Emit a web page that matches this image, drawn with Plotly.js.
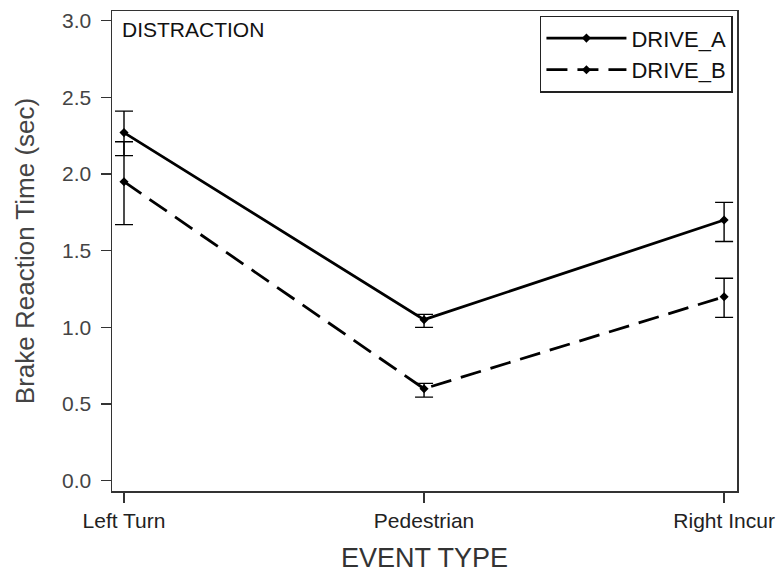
<!DOCTYPE html>
<html>
<head>
<meta charset="utf-8">
<script src="https://cdn.plot.ly/plotly-3.0.1.min.js"></script>
<style>html,body{margin:0;padding:0;background:#fff;}#chart{width:783px;height:578px;}</style>
</head>
<body>
<div id="chart"></div>
<script>
const categories = ["Left Turn", "Pedestrian", "Right Incur"];
const driveA = [2.27, 1.05, 1.70];
const driveAUpper = [2.41, 1.085, 1.815];
const driveALower = [2.12, 1.00, 1.56];
const driveB = [1.95, 0.60, 1.20];
const driveBUpper = [2.21, 0.635, 1.32];
const driveBLower = [1.67, 0.545, 1.065];
const yTicks = [0, 0.5, 1.0, 1.5, 2.0, 2.5, 3.0];
const yTickText = ["0.0", "0.5", "1.0", "1.5", "2.0", "2.5", "3.0"];

const font = "Liberation Sans, Arial, sans-serif";

function mk(name, vals, up, lo, dash) {
  return {
    type: "scatter", mode: "lines+markers", name: name,
    x: categories, y: vals,
    line: {color: "#000", width: 2.8, dash: dash},
    marker: {color: "#000", size: 7, symbol: "diamond"},
    error_y: {
      type: "data", symmetric: false,
      array: up.map((u, i) => u - vals[i]),
      arrayminus: lo.map((l, i) => vals[i] - l),
      color: "#000", thickness: 1.4, width: 9
    }
  };
}

const data = [
  mk("DRIVE_A", driveA, driveAUpper, driveALower, "solid"),
  mk("DRIVE_B", driveB, driveBUpper, driveBLower, "21px,10px")
];

const layout = {
  width: 783, height: 578,
  margin: {l: 112, r: 46, t: 11, b: 87},
  paper_bgcolor: "#fff", plot_bgcolor: "#fff",
  showlegend: true,
  font: {family: font, color: "#333"},
  xaxis: {
    type: "category", range: [-0.04, 2.043],
    showline: true, mirror: true, linecolor: "#333", linewidth: 1.5,
    ticks: "outside", ticklen: 10, tickcolor: "#333", tickwidth: 1.3,
    showgrid: false, zeroline: false,
    tickfont: {size: 21, color: "#222"},
    title: {text: "EVENT TYPE", font: {size: 27, color: "#333"}, standoff: 17}
  },
  yaxis: {
    range: [-0.067, 3.063],
    tickvals: yTicks, ticktext: yTickText,
    showline: true, mirror: true, linecolor: "#333", linewidth: 1.5,
    ticks: "outside", ticklen: 10, tickcolor: "#333", tickwidth: 1.3,
    ticklabelstandoff: 5,
    showgrid: false, zeroline: false,
    tickfont: {size: 21, color: "#444"},
    title: {text: "Brake Reaction Time (sec)", font: {size: 26, color: "#444"}, standoff: 20}
  },
  legend: {
    x: 0.9935, xanchor: "right", y: 0.99, yanchor: "top",
    bordercolor: "#222", borderwidth: 1.5, bgcolor: "#fff",
    font: {size: 22, color: "#111"}, tracegroupgap: 0, itemwidth: 80
  },
  annotations: [{
    text: "DISTRACTION", xref: "paper", yref: "paper", x: 0.012, y: 0.99,
    xanchor: "left", yanchor: "top", showarrow: false,
    font: {size: 21, color: "#111"}
  }]
};

Plotly.newPlot("chart", data, layout, {displayModeBar: false, staticPlot: true});
</script>
</body>
</html>
